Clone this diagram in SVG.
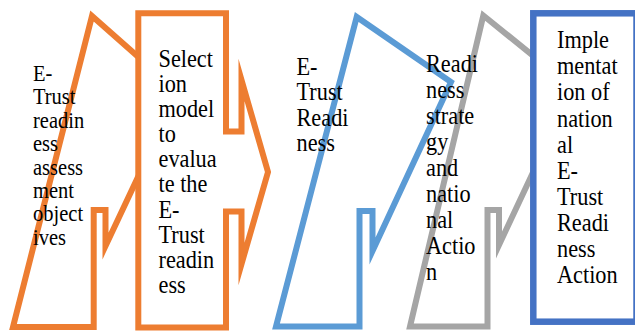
<svg xmlns="http://www.w3.org/2000/svg" width="635" height="331" viewBox="0 0 635 331">
<style>
.sh{fill:#ffffff;stroke-width:6;stroke-linejoin:miter;stroke-miterlimit:10}
.or{stroke:#ED7D31}
.lb{stroke:#5B9BD5}
.gr{stroke:#A5A5A5}
.db{stroke:#4472C4;stroke-width:6.5}
.t{font-family:"Liberation Serif","Times New Roman",serif;fill:#000000;font-size:22.3px}
.t1{font-size:20.5px}
</style>
<rect width="635" height="331" fill="#ffffff"/>
<g id="connectors"/>
<g id="node1">
<polygon class="sh or" points="13,327 92,16 178,92 105.5,246 105.5,210 93.7,210 93.7,327"/>
</g>
<g id="node2">
<polygon class="sh or" points="138.3,13.3 226,13.3 226,131.5 241.5,131.5 241.5,80 268,172 241.5,264 241.5,211.5 226,211.5 226,327.5 138.3,327.5"/>
</g>
<g id="node3">
<polygon class="sh lb" points="276,326.5 356.7,17 451,82 372.5,251 372.5,211 359.5,211 359.5,326.5"/>
</g>
<g id="node4">
<polygon class="sh gr" points="410,326.5 483.3,15.5 572.7,87.8 499,245 499,210 487.5,210 487.5,326.5"/>
</g>
<g id="node5">
<rect class="sh db" x="533.3" y="13.3" width="103.2" height="308.4"/>
</g>
<g id="labels">
<text class="t t1" transform="translate(33,81) scale(1,1.08)"><tspan x="0" y="0">E-</tspan><tspan x="0" dy="21.67">Trust</tspan><tspan x="0" dy="21.67">readin</tspan><tspan x="0" dy="21.67">ess</tspan><tspan x="0" dy="21.67">assess</tspan><tspan x="0" dy="21.67">ment</tspan><tspan x="0" dy="21.67">object</tspan><tspan x="0" dy="21.67">ives</tspan></text>
<text class="t" transform="translate(158.5,66.7) scale(1,1.13)"><tspan x="0" y="0">Select</tspan><tspan x="0" dy="22.26">ion</tspan><tspan x="0" dy="22.26">model</tspan><tspan x="0" dy="22.26">to</tspan><tspan x="0" dy="22.26">evalua</tspan><tspan x="0" dy="22.26">te the</tspan><tspan x="0" dy="22.26">E-</tspan><tspan x="0" dy="22.26">Trust</tspan><tspan x="0" dy="22.26">readin</tspan><tspan x="0" dy="22.26">ess</tspan></text>
<text class="t" transform="translate(296.5,75) scale(1,1.13)"><tspan x="0" y="0">E-</tspan><tspan x="0" dy="22.4">Trust</tspan><tspan x="0" dy="22.4">Readi</tspan><tspan x="0" dy="22.4">ness</tspan></text>
<text class="t" transform="translate(426,72.3) scale(1,1.13)"><tspan x="0" y="0">Readi</tspan><tspan x="0" dy="23">ness</tspan><tspan x="0" dy="23">strate</tspan><tspan x="0" dy="23">gy</tspan><tspan x="0" dy="23">and</tspan><tspan x="0" dy="23">natio</tspan><tspan x="0" dy="23">nal</tspan><tspan x="0" dy="23">Actio</tspan><tspan x="0" dy="23">n</tspan></text>
<text class="t" transform="translate(557,48.3) scale(1,1.13)"><tspan x="0" y="0">Imple</tspan><tspan x="0" dy="23.1">mentat</tspan><tspan x="0" dy="23.1">ion of</tspan><tspan x="0" dy="23.1">nation</tspan><tspan x="0" dy="23.1">al</tspan><tspan x="0" dy="23.1">E-</tspan><tspan x="0" dy="23.1">Trust</tspan><tspan x="0" dy="23.1">Readi</tspan><tspan x="0" dy="23.1">ness</tspan><tspan x="0" dy="23.1">Action</tspan></text>
</g>
</svg>
